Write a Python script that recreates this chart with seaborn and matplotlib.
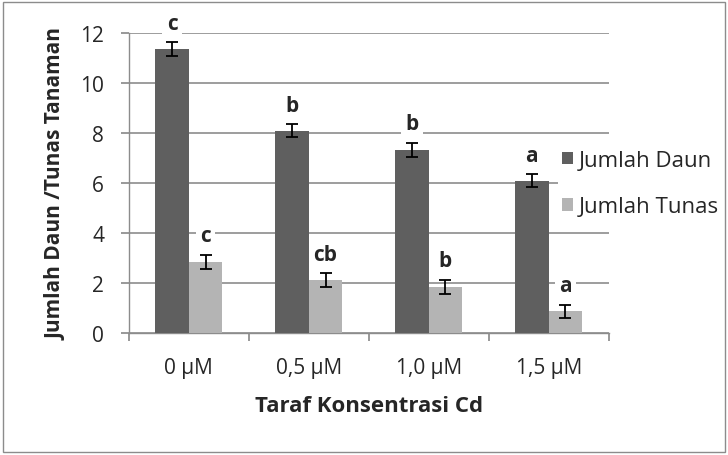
import numpy as np
import pandas as pd
import matplotlib
matplotlib.use('Agg')
from matplotlib import pyplot as plt
from matplotlib.patches import Rectangle
import seaborn as sns

sns.set_theme(style='white', rc={
    'axes.edgecolor': '#8c8c8c',
    'axes.linewidth': 1.0,
})
plt.rcParams['font.family'] = ['Open Sans', 'DejaVu Sans']

# data
kadar = ['0 µM', '0,5 µM', '1,0 µM', '1,5 µM']
daun = [11.36, 8.09, 7.32, 6.09]
daun_err = [0.27, 0.26, 0.29, 0.26]
daun_huruf = ['c', 'b', 'b', 'a']
tunas = [2.85, 2.12, 1.85, 0.88]
tunas_err = [0.28, 0.27, 0.28, 0.26]
tunas_huruf = ['c', 'cb', 'b', 'a']
seri = ['Jumlah Daun', 'Jumlah Tunas']
warna = ['#5f5f5f', '#b4b4b4']

df = pd.DataFrame({
    'kadar': kadar * 2,
    'nilai': daun + tunas,
    'seri': [seri[0]] * 4 + [seri[1]] * 4,
})

fig = plt.figure(figsize=(7.28, 4.56), dpi=100)
ax = fig.add_axes([0.177, 0.2675, 0.659, 0.658])

sns.barplot(data=df, x='kadar', y='nilai', hue='seri', palette=warna,
            width=0.56, gap=0, errorbar=None, ax=ax, zorder=3,
            linewidth=0)

bars = ax.patches[:8]
errs = daun_err + tunas_err
huruf = daun_huruf + tunas_huruf
for p, e, h in zip(bars, errs, huruf):
    cx = p.get_x() + p.get_width() / 2
    top = p.get_height()
    ax.errorbar(cx, top, yerr=e, fmt='none', ecolor='black', elinewidth=1.3,
                capsize=4.5, capthick=1.3, zorder=4)
    ax.annotate(h, (cx, top + e), xytext=(0, 6), textcoords='offset points',
                ha='center', va='bottom', fontsize=15, fontweight='bold',
                bbox=dict(fc='white', ec='none', pad=3), zorder=5)

ax.set_ylim(0, 12)
ax.set_yticks(np.arange(0, 13, 2))
ax.set_xlim(-0.5, 3.5)
ax.yaxis.grid(True, color='#8c8c8c', linewidth=1.2, zorder=0)
ax.set_axisbelow(True)
for s in ['top', 'right']:
    ax.spines[s].set_visible(False)

ax.set_xticks([-0.5, 0.5, 1.5, 2.5, 3.5])
ax.set_xticklabels([])
ax.set_xticks(range(4), minor=True)
ax.set_xticklabels(kadar, minor=True)
ax.tick_params(axis='x', which='major', length=5.8, color='#8c8c8c', direction='out', bottom=True)
ax.tick_params(axis='x', which='minor', length=0, pad=17.5, labelsize=15)
ax.tick_params(axis='y', length=5.8, color='#8c8c8c', direction='out', left=True, labelsize=15, pad=12)

ax.set_xlabel('Taraf Konsentrasi Cd', fontsize=16, fontweight='bold', labelpad=12)
ax.set_ylabel('Jumlah Daun /Tunas Tanaman', fontsize=15, fontweight='bold', labelpad=10)

handles, labels = ax.get_legend_handles_labels()
leg = ax.legend(handles, labels, loc='center left', bbox_to_anchor=(0.766, 0.595),
                bbox_transform=fig.transFigure, frameon=True, fontsize=16,
                handlelength=0.5, handleheight=0.5, handletextpad=0.25,
                labelspacing=1.15, borderpad=0.2, borderaxespad=0)
leg.get_frame().set_facecolor('white')
leg.get_frame().set_edgecolor('none')
leg.get_frame().set_alpha(1)

fig.patches.append(Rectangle((0.004, 0.006), 0.992, 0.988, transform=fig.transFigure,
                             fill=False, edgecolor='#8c8c8c', linewidth=1.0))

fig.savefig('out.png', dpi=100)
